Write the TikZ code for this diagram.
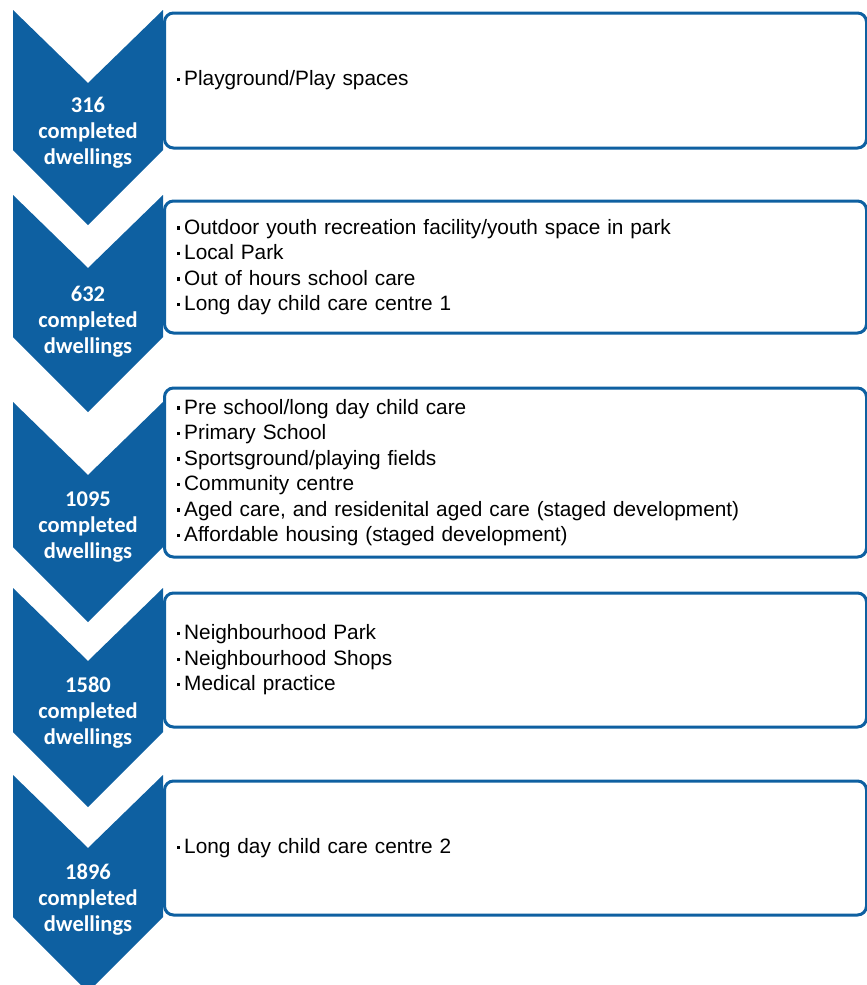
\documentclass[tikz,border=0pt]{standalone}
\usepackage{fontspec}
\setmainfont{Liberation Sans}
\newfontfamily\stagefont{Carlito}
\usetikzlibrary{positioning}
\definecolor{stageblue}{RGB}{14,96,161}
\newcommand{\itm}{\raisebox{4.5pt}{\rule{3.2pt}{3.2pt}}\hspace{4.5pt}}
\newcommand{\chevron}[2]{\fill[stageblue] (13,#1) -- (88,#1+73) -- (163,#1) -- (163,#2) -- (88,#2+75) -- (13,#2) -- cycle;}

\begin{document}
\begin{tikzpicture}[x=1pt,y=-1pt,
  stagelabel/.style={text=white,align=center,inner sep=0pt,
    font=\stagefont\bfseries\fontsize{22.5}{26}\selectfont},
  itembox/.style={draw=stageblue,line width=3pt,rounded corners=9pt,fill=white,
    anchor=west,minimum width=702pt,text width=678pt,inner xsep=12pt,align=left,
    font=\fontsize{20.8}{25.5}\selectfont}]
  \useasboundingbox (0,0) rectangle (867,985);

  \node (box1) [itembox,minimum height=135pt] at (163,80.5) {\itm Playground/Play spaces};
  \node (box2) [itembox,minimum height=132pt] at (163,267) {\itm Outdoor youth recreation facility/youth space in park\\
    \itm Local Park\\ \itm Out of hours school care\\ \itm Long day child care centre 1};
  \node (box3) [itembox,minimum height=169pt] at (163,472.5) {\itm Pre school/long day child care\\
    \itm Primary School\\ \itm Sportsground/playing fields\\ \itm Community centre\\
    \itm Aged care, and residenital aged care (staged development)\\
    \itm Affordable housing (staged development)};
  \node (box4) [itembox,minimum height=134pt] at (163,660) {\itm Neighbourhood Park\\
    \itm Neighbourhood Shops\\ \itm Medical practice};
  \node (box5) [itembox,minimum height=134pt] at (163,848) {\itm Long day child care centre 2};

  \chevron{10}{150}
  \chevron{195}{337}
  \chevron{402}{547}
  \chevron{588}{732}
  \chevron{775}{917}

  \node (s316) [stagelabel] at (88,133) {316\\completed\\dwellings};
  \node (s632) [stagelabel] at (88,322) {632\\completed\\dwellings};
  \node (s1095) [stagelabel] at (88,527) {1095\\completed\\dwellings};
  \node (s1580) [stagelabel] at (88,713) {1580\\completed\\dwellings};
  \node (s1896) [stagelabel] at (88,900) {1896\\completed\\dwellings};
\end{tikzpicture}
\end{document}
